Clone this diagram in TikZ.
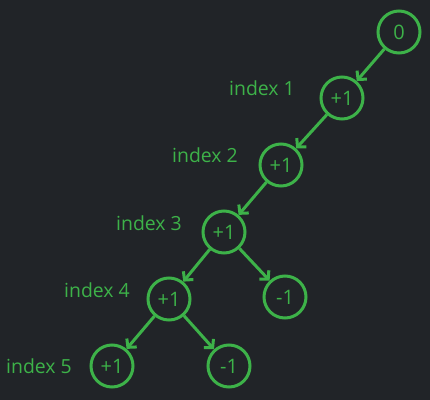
\documentclass[tikz,border=0pt]{standalone}
\usepackage{fontspec}
\setmainfont{Open Sans}
\usetikzlibrary{arrows.meta}
\definecolor{bg}{HTML}{212428}
\definecolor{gr}{HTML}{3DB249}
\begin{document}
\begin{tikzpicture}[x=1bp,y=-1bp,
  vnode/.style={circle,draw=gr,line width=3bp,minimum size=42bp,inner sep=0pt,text=gr,font=\fontsize{20}{22}\selectfont},
  lbl/.style={text=gr,font=\fontsize{19.5}{22}\selectfont,inner sep=0pt},
  edge/.style={draw=gr,line width=3bp,-{Straight Barb[length=6bp,width=13bp]}}]
\fill[bg] (0,0) rectangle (430,400);
\useasboundingbox (0,0) rectangle (430,400);
\node[vnode] (n0) at (399,32) {0};
\node[vnode] (n1) at (342,98) {+1};
\node[vnode] (n2) at (281,165) {+1};
\node[vnode] (n3) at (224,232) {+1};
\node[vnode] (m3) at (285,297) {-1};
\node[vnode] (n4) at (169,299) {+1};
\node[vnode] (n5) at (112,366) {+1};
\node[vnode] (m4) at (229,366) {-1};
\node[lbl] (l1) at (262,88) {index 1};
\node[lbl] (l2) at (205,155) {index 2};
\node[lbl] (l3) at (149,223) {index 3};
\node[lbl] (l4) at (97,290) {index 4};
\node[lbl] (l5) at (39,366) {index 5};
\draw[edge] (n0) -- (n1);
\draw[edge] (n1) -- (n2);
\draw[edge] (n2) -- (n3);
\draw[edge] (n3) -- (n4);
\draw[edge] (n3) -- (m3);
\draw[edge] (n4) -- (n5);
\draw[edge] (n4) -- (m4);
\end{tikzpicture}
\end{document}
